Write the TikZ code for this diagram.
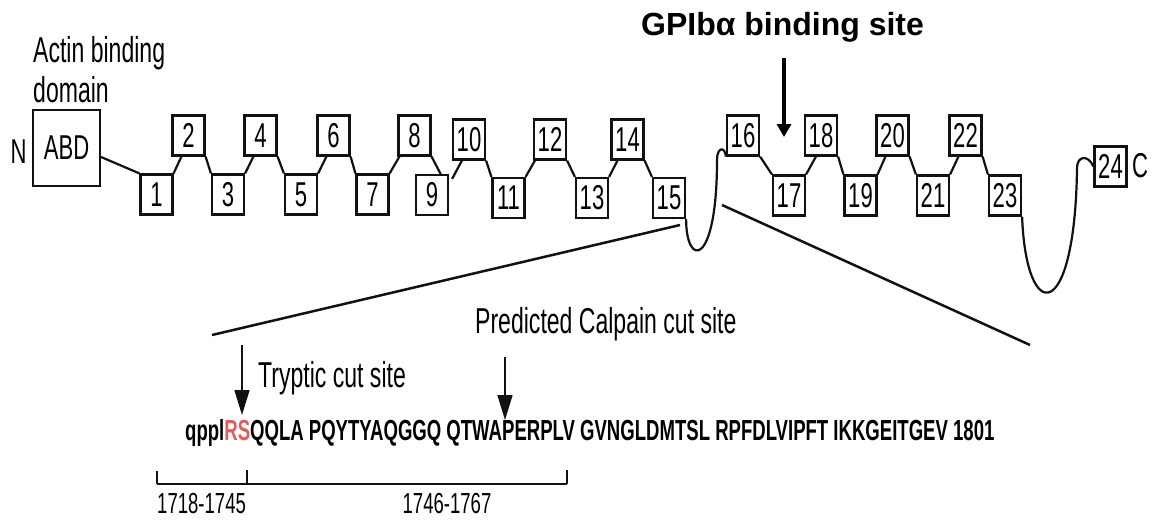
\documentclass[tikz,border=0pt]{standalone}
\usepackage{fontspec}
\setmainfont{Liberation Sans}
\newfontfamily\narrowfont[FakeStretch=0.64]{Liberation Sans}
\usepackage{tikz}
\usetikzlibrary{arrows.meta, positioning, calc}
\usepackage{xcolor}
\definecolor{CutRed}{HTML}{E35D5D}
\definecolor{LineBlack}{HTML}{111111}
\tikzset{
    % domain boxes - plain squares
    domainbox/.style={
        rectangle,
        draw=LineBlack,
        line width=2.2pt,
        minimum width=32pt,
        minimum height=40pt,
        inner sep=0pt,
        font=\narrowfont\fontsize{34.5}{34.5}\selectfont
    },
    abdbox/.style={
        domainbox,
        minimum width=67pt,
        minimum height=76pt
    },
    annot/.style={
        inner sep=0pt,
        font=\narrowfont\fontsize{36}{36}\selectfont
    },
    seqtext/.style={
        inner sep=0pt,
        font=\narrowfont\bfseries\fontsize{29}{29}\selectfont
    },
    rangetext/.style={
        inner sep=0pt,
        font=\narrowfont\fontsize{29}{29}\selectfont
    },
    % line styles
    link/.style={
        line width=2.2pt,
        draw=LineBlack
    },
    zoomline/.style={
        line width=2.5pt,
        draw=LineBlack
    },
    cutarrow/.style={
        -{Triangle[length=25pt,width=15pt]},
        line width=1.5pt,
        draw=LineBlack
    },
    bindarrow/.style={
        -{Triangle[length=13pt,width=14pt]},
        line width=4pt,
        draw=black
    }
}
\begin{document}
\begin{tikzpicture}[x=1pt, y=-1pt]
    \useasboundingbox (0,0) rectangle (1155,525);

    % N-terminus and actin binding domain
    \node[annot, anchor=base west] (actin) at (33,62) {Actin binding};
    \node[annot, anchor=base west] (domain) at (33,102) {domain};
    \node[annot, font=\narrowfont\fontsize{34.5}{34.5}\selectfont, anchor=base] (nterm) at (18.5,163) {N};
    \node[abdbox] (abd) at (66.5,148) {ABD};

    % filamin repeats
    \node[domainbox] (b1) at (156.5,194.5) {1};
    \node[domainbox] (b2) at (188.5,135.5) {2};
    \node[domainbox] (b3) at (228,194.5) {3};
    \node[domainbox] (b4) at (260.5,135.5) {4};
    \node[domainbox] (b5) at (301,194.5) {5};
    \node[domainbox] (b6) at (333.5,135.5) {6};
    \node[domainbox] (b7) at (372.5,194.5) {7};
    \node[domainbox] (b8) at (414.5,135.5) {8};
    \node[domainbox] (b9) at (432,195) {9};
    \node[domainbox] (b10) at (469,139.5) {10};
    \node[domainbox] (b11) at (508.5,198) {11};
    \node[domainbox] (b12) at (550,139.5) {12};
    \node[domainbox] (b13) at (592,198) {13};
    \node[domainbox] (b14) at (627.5,139.5) {14};
    \node[domainbox] (b15) at (669,198) {15};
    \node[domainbox] (b16) at (743,135.5) {16};
    \node[domainbox] (b17) at (789,195.5) {17};
    \node[domainbox] (b18) at (821,135.5) {18};
    \node[domainbox] (b19) at (860.5,195.5) {19};
    \node[domainbox] (b20) at (892.5,135.5) {20};
    \node[domainbox] (b21) at (933,195.5) {21};
    \node[domainbox] (b22) at (965.5,135.5) {22};
    \node[domainbox] (b23) at (1005,195.5) {23};
    \node[domainbox] (b24) at (1110.5,166.5) {24};
    \node[annot, font=\narrowfont\fontsize{34.5}{34.5}\selectfont, anchor=base] (cterm) at (1140,177) {C};

    % linkers between repeats
    \draw[link] ([yshift=-9pt]abd.east) -- (b1.north west);
    \draw[link] (b1.north east) -- ([xshift=10pt]b2.south west);
    \draw[link] (b2.south east) -- (b3.north west);
    \draw[link] (b3.north east) -- ([xshift=10pt]b4.south west);
    \draw[link] (b4.south east) -- (b5.north west);
    \draw[link] (b5.north east) -- ([xshift=10pt]b6.south west);
    \draw[link] (b6.south east) -- (b7.north west);
    \draw[link] (b7.north east) -- ([xshift=2pt]b8.south west);
    \draw[link] (b8.south east) -- ([xshift=-8pt,yshift=-1pt]b9.north east);
    \draw[link] ([xshift=3pt,yshift=-5pt]b9.north east) -- ([xshift=10pt]b10.south west);
    \draw[link] (b10.south east) -- (b11.north west);
    \draw[link] (b11.north east) -- ([xshift=2pt]b12.south west);
    \draw[link] (b12.south east) -- (b13.north west);
    \draw[link] (b13.north east) -- ([xshift=7pt]b14.south west);
    \draw[link] (b14.south east) -- (b15.north west);
    \draw[link] (b16.south east) -- (b17.north west);
    \draw[link] (b17.north east) -- ([xshift=12pt]b18.south west);
    \draw[link] (b18.south east) -- (b19.north west);
    \draw[link] (b19.north east) -- ([xshift=10pt]b20.south west);
    \draw[link] (b20.south east) -- (b21.north west);
    \draw[link] (b21.north east) -- ([xshift=10pt]b22.south west);
    \draw[link] (b22.south east) -- (b23.north west);

    % hinge loops
    \draw[link] (b15.south east) .. controls (686,268) and (717,268) .. (717,160)
        .. controls (717,147) and (725,146) .. (b16.south west);
    \draw[link] (b23.south east) .. controls (1026,325) and (1075,325) .. (1077,168)
        .. controls (1077,156) and (1088,154) .. (b24.west);

    % GPIb alpha binding site
    \node[inner sep=0pt, font=\bfseries\fontsize{32}{32}\selectfont, anchor=base] (gpib) at (782.5,35) {GPIbα binding site};
    \coordinate (gpibtop) at (784,58);
    \coordinate (gpibtip) at (784,137);
    \draw[bindarrow] (gpibtop) -- (gpibtip);

    % zoom into hinge 1
    \coordinate (zoomL0) at (680,225);
    \coordinate (zoomL1) at (212,335);
    \coordinate (zoomR0) at (722,205);
    \coordinate (zoomR1) at (1030,345);
    \draw[zoomline] (zoomL0) -- (zoomL1);
    \draw[zoomline] (zoomR0) -- (zoomR1);

    % sequence and cut sites
    \node[seqtext, anchor=base west] (seq) at (185,440) {qppl\textcolor{CutRed}{RS}QQLA PQYTYAQGGQ QTWAPERPLV GVNGLDMTSL RPFDLVIPFT IKKGEITGEV 1801};
    \node[annot, anchor=base west] (calpain) at (475,333) {Predicted Calpain cut site};
    \node[annot, anchor=base west] (tryptic) at (258,387) {Tryptic cut site};
    \coordinate (trypA) at (242,345);
    \coordinate (trypB) at (242,415);
    \coordinate (calpA) at (505,357);
    \coordinate (calpB) at (505,420);
    \draw[cutarrow] (trypA) -- (trypB);
    \draw[cutarrow] (calpA) -- (calpB);

    % residue ranges
    \coordinate (r0) at (157,484);
    \coordinate (r1) at (247,484);
    \coordinate (r2) at (567,484);
    \draw[link] (r0) -- (r2);
    \draw[link] (r0) -- ++(0,-13);
    \draw[link] (r1) -- ++(0,-14);
    \draw[link] (r2) -- ++(0,-14);
    \node[rangetext, anchor=base west] (range1) at (157,513) {1718-1745};
    \node[rangetext, anchor=base] (range2) at (447,513) {1746-1767};
\end{tikzpicture}
\end{document}
